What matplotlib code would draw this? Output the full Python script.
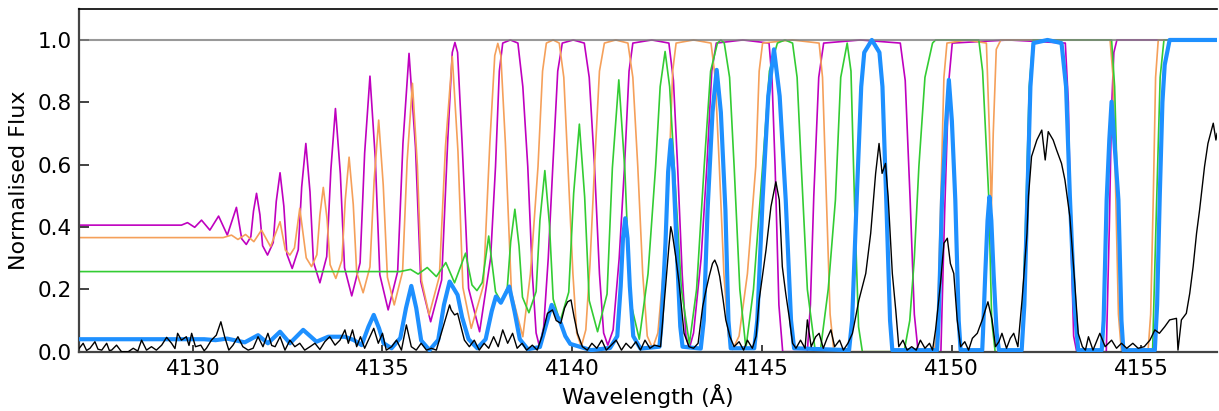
import numpy as np
import matplotlib
matplotlib.use('Agg')
import matplotlib.pyplot as plt

# valores: (longitud de onda en A, flujo normalizado)
magenta_pts = [
    (4127.00, 0.406), (4129.70, 0.406), (4129.86, 0.414), (4130.05, 0.399),
    (4130.23, 0.422), (4130.45, 0.390), (4130.68, 0.435), (4130.91, 0.374),
    (4131.15, 0.463), (4131.29, 0.362), (4131.41, 0.344), (4131.53, 0.369),
    (4131.60, 0.451), (4131.68, 0.508), (4131.77, 0.439), (4131.84, 0.340),
    (4131.97, 0.310), (4132.12, 0.350), (4132.20, 0.482), (4132.30, 0.574),
    (4132.40, 0.467), (4132.48, 0.313), (4132.62, 0.267), (4132.78, 0.327),
    (4132.87, 0.528), (4132.98, 0.668), (4133.09, 0.512), (4133.18, 0.288),
    (4133.35, 0.221), (4133.53, 0.305), (4133.64, 0.584), (4133.76, 0.780),
    (4133.89, 0.570), (4134.00, 0.269), (4134.19, 0.179), (4134.41, 0.285),
    (4134.53, 0.637), (4134.67, 0.884), (4134.81, 0.621), (4134.93, 0.247),
    (4135.15, 0.134), (4135.40, 0.257), (4135.54, 0.669), (4135.70, 0.957),
    (4135.87, 0.656), (4136.01, 0.225), (4136.27, 0.096), (4136.56, 0.230),
    (4136.72, 0.678), (4136.84, 0.960), (4136.91, 0.992), (4136.98, 0.960),
    (4137.10, 0.667), (4137.27, 0.203), (4137.56, 0.064),
    (4137.85, 0.30), (4137.98, 0.594), (4138.08, 0.90), (4138.17, 0.99),
    (4138.37, 1.0), (4138.57, 0.99), (4138.70, 0.85), (4138.83, 0.594),
    (4138.95, 0.25), (4139.05, 0.06), (4139.14, 0.016), (4139.25, 0.08),
    (4139.37, 0.30), (4139.49, 0.594), (4139.62, 0.90), (4139.74, 0.99),
    (4140.03, 1.0), (4140.32, 0.99), (4140.45, 0.88), (4140.59, 0.594),
    (4140.72, 0.25), (4140.83, 0.06), (4140.94, 0.021), (4141.08, 0.07),
    (4141.24, 0.30), (4141.38, 0.594), (4141.50, 0.90), (4141.60, 0.99),
    (4142.10, 1.0), (4142.55, 0.99), (4142.67, 0.87), (4142.78, 0.594),
    (4142.90, 0.25), (4143.00, 0.05), (4143.09, 0.011), (4143.20, 0.06),
    (4143.40, 0.30), (4143.55, 0.594), (4143.68, 0.90), (4143.80, 0.99),
    (4144.50, 1.0), (4145.19, 0.99), (4145.27, 0.87), (4145.35, 0.594),
    (4145.45, 0.15), (4145.55, 0.0), (4146.20, 0.0), (4146.28, 0.15),
    (4146.37, 0.50), (4146.50, 0.88), (4146.63, 0.99), (4147.60, 1.0),
    (4148.65, 0.99), (4148.78, 0.87), (4148.91, 0.487), (4149.02, 0.12),
    (4149.12, 0.0), (4149.72, 0.0), (4149.82, 0.45), (4149.93, 0.87),
    (4150.02, 0.99), (4151.50, 1.0), (4153.00, 0.99), (4153.08, 0.80),
    (4153.14, 0.40), (4153.22, 0.05), (4153.30, 0.0), (4154.08, 0.0),
    (4154.16, 0.40), (4154.22, 0.78), (4154.28, 0.96), (4154.36, 1.0),
    (4157.00, 1.0)]

orange_pts = [
    (4127.00, 0.366), (4130.80, 0.366), (4131.02, 0.374), (4131.19, 0.360),
    (4131.39, 0.376), (4131.61, 0.353), (4131.81, 0.390), (4132.05, 0.337),
    (4132.30, 0.417), (4132.44, 0.326), (4132.56, 0.310), (4132.68, 0.333),
    (4132.82, 0.460), (4132.99, 0.301), (4133.13, 0.273), (4133.27, 0.311),
    (4133.35, 0.438), (4133.44, 0.527), (4133.54, 0.425), (4133.62, 0.279),
    (4133.77, 0.235), (4133.93, 0.293), (4134.02, 0.488), (4134.12, 0.624),
    (4134.23, 0.472), (4134.32, 0.254), (4134.49, 0.189), (4134.67, 0.272),
    (4134.78, 0.549), (4134.90, 0.743), (4135.02, 0.535), (4135.13, 0.239),
    (4135.31, 0.150), (4135.53, 0.257), (4135.65, 0.612), (4135.79, 0.861),
    (4135.92, 0.597), (4136.03, 0.229), (4136.23, 0.118), (4136.50, 0.242),
    (4136.66, 0.657), (4136.84, 0.947), (4136.99, 0.642), (4137.12, 0.206),
    (4137.34, 0.075), (4137.66, 0.212), (4137.83, 0.669), (4137.96, 0.950),
    (4138.04, 0.989), (4138.12, 0.950), (4138.24, 0.669), (4138.40, 0.189),
    (4138.70, 0.048),
    (4138.90, 0.25), (4139.10, 0.594), (4139.22, 0.90), (4139.32, 0.99),
    (4139.50, 1.0), (4139.66, 0.99), (4139.78, 0.88), (4139.89, 0.594),
    (4140.02, 0.25), (4140.12, 0.06), (4140.24, 0.016), (4140.36, 0.07),
    (4140.47, 0.28), (4140.59, 0.594), (4140.72, 0.90), (4140.85, 0.99),
    (4141.15, 1.0), (4141.47, 0.99), (4141.60, 0.88), (4141.73, 0.594),
    (4141.86, 0.25), (4141.98, 0.05), (4142.12, 0.011), (4142.26, 0.06),
    (4142.42, 0.28), (4142.56, 0.594), (4142.65, 0.90), (4142.74, 0.99),
    (4143.20, 1.0), (4143.66, 0.99), (4143.77, 0.88), (4143.88, 0.594),
    (4144.00, 0.25), (4144.12, 0.05), (4144.23, 0.007), (4144.40, 0.05),
    (4144.62, 0.25), (4144.84, 0.594), (4144.93, 0.90), (4145.02, 0.99),
    (4145.80, 1.0), (4146.51, 0.99), (4146.60, 0.88), (4146.70, 0.50),
    (4146.80, 0.12), (4146.90, 0.0), (4149.55, 0.0), (4149.64, 0.12),
    (4149.72, 0.50), (4149.80, 0.88), (4149.88, 0.99), (4150.40, 1.0),
    (4150.92, 0.99), (4151.00, 0.70), (4151.05, 0.45), (4151.10, 0.70),
    (4151.18, 0.97), (4151.30, 1.0), (4154.18, 1.0), (4154.26, 0.88),
    (4154.33, 0.50), (4154.40, 0.12), (4154.48, 0.0), (4155.18, 0.0),
    (4155.25, 0.12), (4155.32, 0.50), (4155.38, 0.88), (4155.45, 1.0),
    (4157.00, 1.0)]

green_pts = [
    (4127.00, 0.257), (4135.46, 0.257), (4135.74, 0.264), (4135.94, 0.249),
    (4136.18, 0.270), (4136.42, 0.241), (4136.67, 0.286), (4136.90, 0.221),
    (4137.19, 0.316), (4137.36, 0.214), (4137.49, 0.196), (4137.63, 0.222),
    (4137.80, 0.371), (4137.98, 0.192), (4138.13, 0.160), (4138.29, 0.205),
    (4138.38, 0.353), (4138.49, 0.457), (4138.60, 0.339), (4138.69, 0.175),
    (4138.86, 0.125), (4139.05, 0.193), (4139.15, 0.421), (4139.28, 0.581),
    (4139.40, 0.411), (4139.50, 0.169), (4139.68, 0.096), (4139.91, 0.191),
    (4140.04, 0.508), (4140.19, 0.730), (4140.33, 0.496), (4140.45, 0.164),
    (4140.67, 0.064), (4140.92, 0.185), (4141.06, 0.589), (4141.23, 0.872),
    (4141.39, 0.581), (4141.53, 0.165), (4141.77, 0.040),
    (4142.00, 0.25), (4142.20, 0.594), (4142.32, 0.85), (4142.45, 0.963),
    (4142.57, 0.85), (4142.69, 0.594), (4142.88, 0.20), (4143.09, 0.025),
    (4143.28, 0.20), (4143.48, 0.594), (4143.65, 0.90), (4143.83, 0.99),
    (4143.92, 1.0), (4144.01, 0.99), (4144.15, 0.88), (4144.27, 0.594),
    (4144.42, 0.20), (4144.58, 0.011), (4144.78, 0.20), (4145.02, 0.594),
    (4145.20, 0.90), (4145.41, 0.99), (4145.61, 1.0), (4145.81, 0.99),
    (4145.93, 0.88), (4146.04, 0.594), (4146.20, 0.20), (4146.40, 0.01),
    (4146.55, 0.01), (4146.75, 0.20), (4146.94, 0.487), (4147.08, 0.88),
    (4147.25, 0.99), (4147.35, 0.90), (4147.45, 0.45), (4147.55, 0.08),
    (4147.65, 0.0), (4148.75, 0.0), (4148.90, 0.10), (4149.02, 0.30),
    (4149.14, 0.594), (4149.30, 0.88), (4149.50, 0.99), (4149.58, 1.0),
    (4150.72, 1.0), (4150.82, 0.90), (4150.98, 0.50), (4151.06, 0.10),
    (4151.15, 0.0), (4151.85, 0.0), (4151.95, 0.40), (4152.05, 0.85),
    (4152.15, 1.0), (4154.22, 1.0), (4154.30, 0.85), (4154.38, 0.50),
    (4154.46, 0.10), (4154.55, 0.0), (4155.30, 0.0), (4155.40, 0.45),
    (4155.50, 0.88), (4155.60, 1.0), (4157.00, 1.0)]

blue_pts = [
    (4127.00, 0.040), (4130.30, 0.040), (4130.60, 0.037), (4130.90, 0.042),
    (4131.37, 0.030), (4131.72, 0.053), (4131.98, 0.027), (4132.30, 0.064),
    (4132.56, 0.027), (4132.91, 0.070), (4133.26, 0.032), (4133.57, 0.048),
    (4134.01, 0.048), (4134.25, 0.037), (4134.45, 0.021), (4134.63, 0.080),
    (4134.77, 0.118), (4134.91, 0.075), (4135.03, 0.027), (4135.24, 0.011),
    (4135.47, 0.044), (4135.62, 0.140), (4135.76, 0.211), (4135.89, 0.140),
    (4136.02, 0.036), (4136.24, 0.005), (4136.47, 0.038), (4136.62, 0.150),
    (4136.77, 0.225), (4136.98, 0.182), (4137.10, 0.110), (4137.27, 0.040),
    (4137.50, 0.011), (4137.72, 0.040), (4137.88, 0.130), (4137.99, 0.177),
    (4138.12, 0.157), (4138.34, 0.209), (4138.48, 0.130), (4138.62, 0.040),
    (4138.83, 0.008), (4139.15, 0.015), (4139.30, 0.080), (4139.46, 0.150),
    (4139.58, 0.120), (4139.70, 0.091), (4139.82, 0.050), (4139.95, 0.025),
    (4140.50, 0.005), (4141.00, 0.012), (4141.19, 0.050), (4141.28, 0.210),
    (4141.34, 0.364), (4141.40, 0.428), (4141.46, 0.364), (4141.52, 0.210),
    (4141.61, 0.050), (4141.80, 0.010), (4142.30, 0.016), (4142.35, 0.081),
    (4142.46, 0.348), (4142.53, 0.577), (4142.60, 0.679), (4142.67, 0.577),
    (4142.75, 0.348), (4142.85, 0.081), (4142.91, 0.016), (4143.39, 0.010),
    (4143.47, 0.100), (4143.57, 0.455), (4143.70, 0.768), (4143.81, 0.904),
    (4143.92, 0.768), (4144.04, 0.455), (4144.12, 0.100), (4144.18, 0.011),
    (4144.80, 0.011), (4144.88, 0.100), (4145.02, 0.487), (4145.17, 0.820),
    (4145.32, 0.970), (4145.47, 0.820), (4145.63, 0.487), (4145.77, 0.100),
    (4145.85, 0.011), (4147.30, 0.005), (4147.38, 0.100), (4147.50, 0.487),
    (4147.62, 0.850), (4147.70, 0.960), (4147.90, 1.0), (4148.10, 0.960),
    (4148.18, 0.850), (4148.28, 0.487), (4148.38, 0.100), (4148.44, 0.005),
    (4149.62, 0.005), (4149.66, 0.100), (4149.75, 0.487), (4149.86, 0.740),
    (4149.93, 0.872), (4150.01, 0.740), (4150.10, 0.487), (4150.19, 0.100),
    (4150.24, 0.005), (4150.81, 0.005), (4150.83, 0.060), (4150.89, 0.250),
    (4150.95, 0.420), (4151.00, 0.497), (4151.05, 0.420), (4151.11, 0.250),
    (4151.19, 0.060), (4151.25, 0.005), (4151.85, 0.005), (4151.92, 0.150),
    (4152.00, 0.500), (4152.08, 0.850), (4152.16, 0.990), (4152.53, 1.0),
    (4152.90, 0.990), (4153.02, 0.850), (4153.12, 0.500), (4153.24, 0.150),
    (4153.34, 0.005), (4153.96, 0.005), (4154.01, 0.100), (4154.09, 0.487),
    (4154.16, 0.680), (4154.22, 0.802), (4154.29, 0.680), (4154.40, 0.487),
    (4154.48, 0.100), (4154.53, 0.005), (4155.36, 0.005), (4155.42, 0.150),
    (4155.49, 0.500), (4155.56, 0.800), (4155.62, 0.920), (4155.75, 1.0),
    (4157.00, 1.0)]

data_pts = [
    (4127.00, 0.010), (4127.11, 0.027), (4127.20, 0.004), (4127.29, 0.011),
    (4127.42, 0.032), (4127.50, 0.008), (4127.60, 0.005), (4127.73, 0.027),
    (4127.80, 0.004), (4127.86, 0.005), (4127.99, 0.021), (4128.12, 0.0),
    (4128.30, 0.0), (4128.43, 0.011), (4128.55, 0.002), (4128.65, 0.037),
    (4128.78, 0.005), (4128.91, 0.016), (4129.04, 0.005), (4129.18, 0.021),
    (4129.31, 0.046), (4129.44, 0.027), (4129.53, 0.010), (4129.60, 0.059),
    (4129.70, 0.037), (4129.83, 0.048), (4129.90, 0.020), (4129.97, 0.059),
    (4130.07, 0.016), (4130.21, 0.021), (4130.30, 0.003), (4130.36, 0.011),
    (4130.49, 0.037), (4130.62, 0.053), (4130.74, 0.096), (4130.84, 0.048),
    (4130.95, 0.005), (4131.06, 0.021), (4131.19, 0.048), (4131.32, 0.016),
    (4131.46, 0.005), (4131.59, 0.011), (4131.72, 0.048), (4131.85, 0.016),
    (4131.98, 0.059), (4132.08, 0.020), (4132.17, 0.016), (4132.30, 0.048),
    (4132.43, 0.005), (4132.56, 0.037), (4132.69, 0.016), (4132.82, 0.027),
    (4132.95, 0.005), (4133.09, 0.016), (4133.22, 0.027), (4133.35, 0.007),
    (4133.48, 0.032), (4133.61, 0.048), (4133.75, 0.021), (4133.88, 0.037),
    (4134.01, 0.070), (4134.10, 0.027), (4134.21, 0.070), (4134.32, 0.016),
    (4134.42, 0.048), (4134.53, 0.011), (4134.65, 0.043), (4134.77, 0.075),
    (4134.89, 0.027), (4135.00, 0.059), (4135.10, 0.005), (4135.24, 0.016),
    (4135.37, 0.037), (4135.50, 0.005), (4135.63, 0.086), (4135.76, 0.016),
    (4135.89, 0.005), (4136.02, 0.027), (4136.16, 0.005), (4136.29, 0.011),
    (4136.42, 0.005), (4136.55, 0.059), (4136.68, 0.112), (4136.77, 0.150),
    (4136.81, 0.134), (4136.90, 0.118), (4136.98, 0.123), (4137.07, 0.080),
    (4137.16, 0.037), (4137.29, 0.016), (4137.42, 0.037), (4137.55, 0.005),
    (4137.68, 0.027), (4137.80, 0.011), (4137.93, 0.048), (4138.05, 0.016),
    (4138.17, 0.070), (4138.30, 0.027), (4138.43, 0.059), (4138.55, 0.011),
    (4138.68, 0.027), (4138.80, 0.005), (4138.95, 0.021), (4139.08, 0.005),
    (4139.20, 0.048), (4139.35, 0.123), (4139.48, 0.134), (4139.58, 0.100),
    (4139.70, 0.091), (4139.80, 0.140), (4139.88, 0.160), (4139.97, 0.166),
    (4140.05, 0.112), (4140.14, 0.059), (4140.27, 0.016), (4140.40, 0.005),
    (4140.52, 0.027), (4140.65, 0.011), (4140.78, 0.037), (4140.90, 0.005),
    (4141.03, 0.021), (4141.16, 0.037), (4141.30, 0.005), (4141.42, 0.027),
    (4141.55, 0.011), (4141.68, 0.032), (4141.80, 0.005), (4141.92, 0.037),
    (4142.05, 0.011), (4142.17, 0.021), (4142.33, 0.016), (4142.47, 0.219),
    (4142.55, 0.337), (4142.60, 0.401), (4142.64, 0.380), (4142.73, 0.305),
    (4142.82, 0.219), (4142.95, 0.059), (4143.08, 0.016), (4143.20, 0.011),
    (4143.32, 0.027), (4143.44, 0.144), (4143.53, 0.198), (4143.61, 0.241),
    (4143.70, 0.283), (4143.76, 0.294), (4143.83, 0.273), (4143.89, 0.241),
    (4143.98, 0.166), (4144.05, 0.102), (4144.16, 0.048), (4144.27, 0.016),
    (4144.40, 0.032), (4144.52, 0.005), (4144.62, 0.037), (4144.75, 0.011),
    (4144.85, 0.050), (4144.93, 0.166), (4145.11, 0.326), (4145.24, 0.465),
    (4145.37, 0.545), (4145.46, 0.487), (4145.54, 0.273), (4145.63, 0.187),
    (4145.72, 0.112), (4145.81, 0.027), (4145.90, 0.011), (4146.02, 0.037),
    (4146.14, 0.011), (4146.20, 0.102), (4146.30, 0.016), (4146.42, 0.048),
    (4146.51, 0.059), (4146.62, 0.011), (4146.72, 0.043), (4146.82, 0.070),
    (4146.92, 0.016), (4147.05, 0.037), (4147.15, 0.005), (4147.27, 0.027),
    (4147.39, 0.059), (4147.56, 0.166), (4147.74, 0.251), (4147.87, 0.380),
    (4148.00, 0.572), (4148.09, 0.668), (4148.17, 0.572), (4148.26, 0.604),
    (4148.33, 0.497), (4148.44, 0.251), (4148.53, 0.134), (4148.61, 0.016),
    (4148.72, 0.037), (4148.83, 0.005), (4148.95, 0.016), (4149.07, 0.005),
    (4149.18, 0.037), (4149.30, 0.011), (4149.42, 0.027), (4149.50, 0.005),
    (4149.58, 0.070), (4149.71, 0.219), (4149.80, 0.348), (4149.89, 0.364),
    (4149.97, 0.283), (4150.06, 0.251), (4150.15, 0.102), (4150.24, 0.016),
    (4150.35, 0.032), (4150.45, 0.005), (4150.55, 0.043), (4150.68, 0.059),
    (4150.81, 0.102), (4150.96, 0.160), (4151.07, 0.102), (4151.16, 0.016),
    (4151.25, 0.032), (4151.33, 0.059), (4151.45, 0.011), (4151.55, 0.043),
    (4151.64, 0.059), (4151.75, 0.016), (4151.86, 0.166), (4151.99, 0.380),
    (4152.03, 0.500), (4152.11, 0.626), (4152.25, 0.679), (4152.38, 0.711),
    (4152.47, 0.615), (4152.55, 0.706), (4152.68, 0.679), (4152.77, 0.647),
    (4152.90, 0.604), (4152.99, 0.551), (4153.12, 0.433), (4153.25, 0.219),
    (4153.34, 0.059), (4153.45, 0.016), (4153.53, 0.005), (4153.61, 0.048),
    (4153.73, 0.005), (4153.91, 0.059), (4154.05, 0.016), (4154.22, 0.037),
    (4154.35, 0.011), (4154.48, 0.027), (4154.62, 0.011), (4154.78, 0.027),
    (4154.92, 0.011), (4155.08, 0.016), (4155.23, 0.037), (4155.36, 0.070),
    (4155.48, 0.059), (4155.62, 0.080), (4155.75, 0.102), (4155.93, 0.107),
    (4155.97, 0.005), (4156.06, 0.102), (4156.19, 0.123), (4156.28, 0.187),
    (4156.37, 0.273), (4156.46, 0.380), (4156.54, 0.455), (4156.67, 0.594),
    (4156.76, 0.668), (4156.90, 0.733), (4156.97, 0.679), (4157.00, 0.700)]

x_ticks = [4130, 4135, 4140, 4145, 4150, 4155]
y_ticks = [0.0, 0.2, 0.4, 0.6, 0.8, 1.0]

fig = plt.figure(figsize=(12.19, 4.11), dpi=100)
ax = fig.add_axes([0.0648, 0.1443, 0.9336, 0.8343])

for pts, color, lw, z in ((magenta_pts, '#bf00bf', 1.2, 2),
                          (orange_pts, '#f5a05a', 1.2, 2),
                          (green_pts, '#33cc33', 1.2, 2),
                          (blue_pts, '#1e90ff', 3.0, 3)):
    arr = np.array(pts)
    ax.plot(arr[:, 0], arr[:, 1], color=color, lw=lw, zorder=z,
            solid_joinstyle='round')

ax.axhline(1.0, color='grey', lw=1.5, alpha=0.8, zorder=2.5)

arr = np.array(data_pts)
ax.plot(arr[:, 0], arr[:, 1], color='k', lw=1.0, zorder=4)

ax.set_xlim(4127, 4157)
ax.set_ylim(0, 1.1)
ax.set_xticks(x_ticks)
ax.set_yticks(y_ticks)
ax.set_yticklabels(['{:.1f}'.format(v) for v in y_ticks])
ax.tick_params(axis='both', direction='in', labelsize=15.5, color='#333333',
               width=1.3)
ax.tick_params(axis='y', length=7, pad=5)
ax.tick_params(axis='x', length=5, pad=5)
ax.set_xlabel('Wavelength (Å)', fontsize=16)
ax.set_ylabel('Normalised Flux', fontsize=16, labelpad=6)

ax.spines['right'].set_visible(False)
ax.spines['top'].set_color('k')
ax.spines['top'].set_linewidth(1.2)
for s in ('left', 'bottom'):
    ax.spines[s].set_color('#444444')
    ax.spines[s].set_linewidth(1.6)

fig.savefig('out.png', dpi=100)
